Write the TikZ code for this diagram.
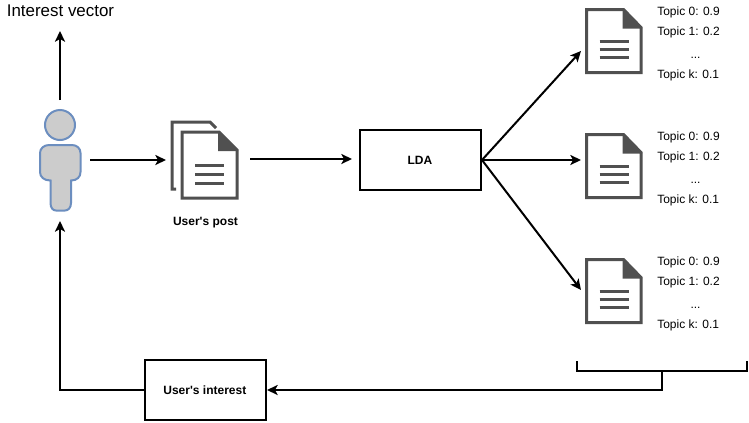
\documentclass[tikz,border=0pt]{standalone}
\usepackage{fontspec}
\setmainfont{Liberation Sans}
\newfontfamily\plainsans{Liberation Sans}
\usetikzlibrary{arrows.meta}
\definecolor{docgray}{HTML}{505050}
\definecolor{personfill}{HTML}{CCCCCC}
\definecolor{personline}{HTML}{6C8EBF}
\tikzset{
  x=0.75pt,y=-0.75pt,
  conn/.style={draw=black,line width=1.5pt,-{Stealth[length=8pt,width=7.5pt,inset=2pt]}},
  plainline/.style={draw=black,line width=1.5pt},
  boxnode/.style={draw=black,line width=1.5pt,minimum width=90.75pt,minimum height=45pt,inner sep=0pt,font=\plainsans\fontsize{9}{11}\selectfont\bfseries},
  doctext/.style={font=\fontsize{9}{11}\selectfont,anchor=west,inner sep=0pt,text=black},
  docdots/.style={font=\fontsize{9}{11}\selectfont,anchor=center,inner sep=0pt,text=black},
  boldlabel/.style={font=\plainsans\fontsize{9}{11}\selectfont\bfseries,inner sep=0pt},
  docedge/.style={draw=docgray,line width=2.25pt,fill=white,line join=miter},
  docfold/.style={fill=docgray,draw=none},
  docrule/.style={draw=docgray,line width=2.25pt},
  personshape/.style={draw=personline,fill=personfill,line width=1.5pt},
}
\newcommand{\docicon}[1]{%
  \begin{scope}[shift={(#1)}]
    \draw[docedge] (0,0) -- (37,0) -- (54.5,18) -- (54.5,63) -- (0,63) -- cycle;
    \fill[docfold] (36,0) -- (38,0) -- (55.5,18) -- (55.5,19) -- (36,19) -- cycle;
    \draw[docrule] (13,32) -- (42,32);
    \draw[docrule] (13,40) -- (42,40);
    \draw[docrule] (13,48) -- (42,48);
  \end{scope}}
\newcommand{\topiclist}[2]{%
  \node[doctext] (#2a) at (657,#1+2) {Topic 0: 0.9};
  \node[doctext] (#2b) at (657,#1+22) {Topic 1: 0.2};
  \node[docdots] (#2c) at (695.5,#1+47.5) {...};
  \node[doctext] (#2d) at (657,#1+65) {Topic k: 0.1};}
\begin{document}
\begin{tikzpicture}
\useasboundingbox (0,0) rectangle (749,422);
\fill[white] (0,0) rectangle (749,422);
% person
\draw[personshape] (60,125) circle[radius=15];
\draw[personshape] (49,145) -- (72,145)
  .. controls (77,145) and (80.5,148.5) .. (80.5,153) -- (80.5,172)
  .. controls (80.5,177) and (77,180.5) .. (71,180.5) -- (71,203)
  .. controls (71,208) and (68,210.5) .. (65,210.5) -- (56,210.5)
  .. controls (53,210.5) and (50.5,208) .. (50.5,203) -- (50.5,180.5)
  .. controls (44,180.5) and (40,177) .. (40,172) -- (40,153)
  .. controls (40,148.5) and (44,145) .. (49,145) -- cycle;
% post icon
\draw[draw=docgray,line width=2.25pt] (176,189) -- (172,189) -- (172,122) -- (210,122) -- (216,128);
\begin{scope}[shift={(182,132)}]
  \draw[docedge] (0,0) -- (37,0) -- (55,18) -- (55,66) -- (0,66) -- cycle;
  \fill[docfold] (36,0) -- (38,0) -- (56,18) -- (56,19) -- (36,19) -- cycle;
  \draw[docrule] (13,33) -- (42,33);
  \draw[docrule] (13,42) -- (42,42);
  \draw[docrule] (13,51) -- (42,51);
\end{scope}
\node[boldlabel] (post) at (205.5,222.5) {User's post};
% documents
\docicon{586.5,9.5}
\docicon{586.5,134.5}
\docicon{586.5,259.5}
\topiclist{10}{p}
\topiclist{135}{q}
\topiclist{260}{r}
% boxes
\node[boxnode] (lda) at (420.5,160) {\raisebox{-0.5pt}{\hspace{-1pt}LDA}};
\node[boxnode] (interest) at (205.5,390) {\raisebox{-0.5pt}{\hspace{-1pt}User's interest}};
\node[font=\fontsize{12.7}{15}\selectfont,inner sep=0pt] (vec) at (60.5,11) {Interest vector};
% free ends
\coordinate (upS) at (60,100);
\coordinate (upE) at (60,31);
\coordinate (pS) at (90,160);
\coordinate (pE) at (166,160);
\coordinate (oS) at (250,159);
\coordinate (oE) at (352,159);
\coordinate (d1) at (581,51);
\coordinate (d2) at (581,160);
\coordinate (d3) at (581,290);
\coordinate (bl) at (577,361);
\coordinate (bla) at (577,371);
\coordinate (bra) at (747,371);
\coordinate (br) at (747,361);
\coordinate (bm) at (662,371);
\coordinate (bd) at (662,390);
\coordinate (pin) at (60,221);
% connectors
\draw[conn] (upS) -- (upE);
\draw[conn] (pS) -- (pE);
\draw[conn] (oS) -- (oE);
\draw[conn] (lda.east) -- (d1);
\draw[conn] (lda.east) -- (d2);
\draw[conn] (lda.east) -- (d3);
\draw[plainline] (bl) -- (bla) -- (bra) -- (br);
\draw[conn] (bm) -- (bd) -- (interest.east);
\draw[conn] (interest.west) -| (pin);
\end{tikzpicture}
\end{document}
